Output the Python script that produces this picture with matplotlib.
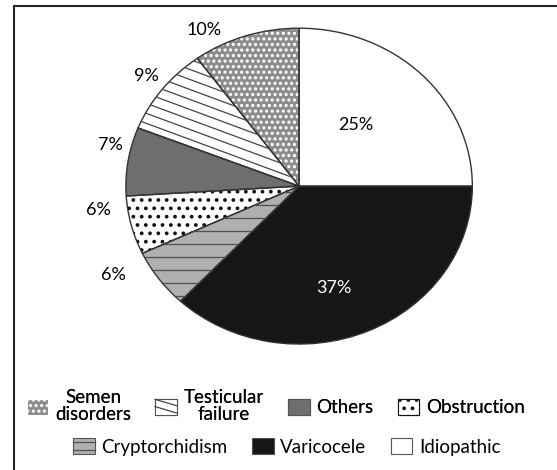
import numpy as np
import matplotlib.pyplot as plt
from matplotlib.patches import Patch, Rectangle
from matplotlib.lines import Line2D
from matplotlib.legend_handler import HandlerBase

plt.rcParams['font.family'] = ['Lato', 'DejaVu Sans']
plt.rcParams['hatch.linewidth'] = 1.5

# slices, clockwise from 12 o'clock
labels  = ['Idiopathic', 'Varicocele', 'Cryptorchidism', 'Obstruction',
           'Others', 'Testicular failure', 'Semen disorders']
values  = [25, 37, 6, 6, 7, 9, 10]
faces   = ['white', '#161616', '#b0b0b0', 'white', '#6e6e6e', 'white', '#8c8c8c']
dotcol  = [None, None, None, '#111111', None, None, 'white']
dots    = [None, None, None, '..', None, None, '...']
# stripe textures: (slope in px, spacing in px, colour)
stripe  = {'Cryptorchidism': (0.0, 13, '#505050'),
           'Testicular failure': (0.37, 10, '#444444')}

fig = plt.figure(figsize=(5.57, 4.70), dpi=100)
ax = fig.add_axes([0.226, 0.268, 0.622, 0.672])

wedges, _ = ax.pie(values, colors=faces, startangle=90, counterclock=False,
                   wedgeprops=dict(linewidth=0))
for w, h, hc in zip(wedges, dots, dotcol):
    if h:
        w.set_edgecolor(hc)
        w.set_hatch(h)
ax.set_aspect('auto')
ax.set_xlim(-1, 1)
ax.set_ylim(-1, 1)

# px per data unit, used for the stripe textures
bb = ax.get_window_extent()
px, py = bb.width / 2, bb.height / 2
for w, lab in zip(wedges, labels):
    if lab not in stripe:
        continue
    s, step, col = stripe[lab]
    xs = np.array([-1.2, 1.2])
    for c in np.arange(-3, 3, step / py):
        ln = ax.plot(xs, -s * px / py * xs + c, color=col, lw=0.9)[0]
        ln.set_clip_path(w)

# outlines on top
ax.pie(values, colors=['none'] * len(values), startangle=90, counterclock=False,
       wedgeprops=dict(linewidth=1.0, edgecolor='#333333', fill=False))
ax.set_aspect('auto')
ax.set_xlim(-1, 1)
ax.set_ylim(-1, 1)

# percentage labels
pos = [(0.33, 0.39), (0.2, -0.645), (-1.07, -0.56), (-1.16, -0.15),
       (-1.09, 0.26), (-0.88, 0.70), (-0.55, 0.99)]
for (x, y), v, lab in zip(pos, values, labels):
    col = 'white' if lab == 'Varicocele' else 'black'
    ax.text(x, y, f'{v}%', ha='center', va='center', fontsize=13, color=col)


class StripeHandler(HandlerBase):
    def __init__(self, slope, col):
        super().__init__()
        self.slope, self.col = slope, col

    def create_artists(self, legend, orig, xd, yd, width, height, fontsize, trans):
        x0, y0 = -xd, -yd
        arts = [Rectangle((x0, y0), width, height, facecolor=orig.get_facecolor(),
                          edgecolor='#555555', lw=0.8, transform=trans)]
        for f in (0.3, 0.75):
            yy = y0 + f * height
            d = self.slope * width / 2
            arts.append(Line2D([x0, x0 + width], [yy + d, yy - d], color=self.col,
                               lw=0.9, transform=trans))
        return arts


def handle(name):
    i = labels.index(name)
    return Patch(facecolor=faces[i], edgecolor=dotcol[i] or '#555555',
                 hatch=dots[i], linewidth=0.8)


hmap = {}
row1 = ['Semen disorders', 'Testicular failure', 'Others', 'Obstruction']
row2 = ['Cryptorchidism', 'Varicocele', 'Idiopathic']
h1 = [handle(n) for n in row1]
h2 = [handle(n) for n in row2]
for hs, names in ((h1, row1), (h2, row2)):
    for h, n in zip(hs, names):
        if n in stripe:
            hmap[h] = StripeHandler(stripe[n][0] * 0.8, stripe[n][2])

txt1 = ['Semen\ndisorders', 'Testicular\nfailure', 'Others', 'Obstruction']
kw = dict(loc='center', frameon=False, fontsize=13.5, handlelength=1.15,
          handleheight=0.95, handletextpad=0.35, columnspacing=1.3,
          handler_map=hmap)
leg1 = fig.legend(h1, txt1, ncol=4, bbox_to_anchor=(0.495, 0.136), **kw)
for t in leg1.get_texts():
    t.set_multialignment('center')
    t.set_linespacing(0.95)
leg2 = fig.legend(h2, row2, ncol=3, bbox_to_anchor=(0.515, 0.049), **kw)
fig.add_artist(leg1)

# partial frame: left and top lines
fig.add_artist(Line2D([0.025, 0.025], [0, 0.987], color='#222222', lw=1.5))
fig.add_artist(Line2D([0.025, 1], [0.987, 0.987], color='#222222', lw=1.5))

fig.savefig('out.png', dpi=100)
